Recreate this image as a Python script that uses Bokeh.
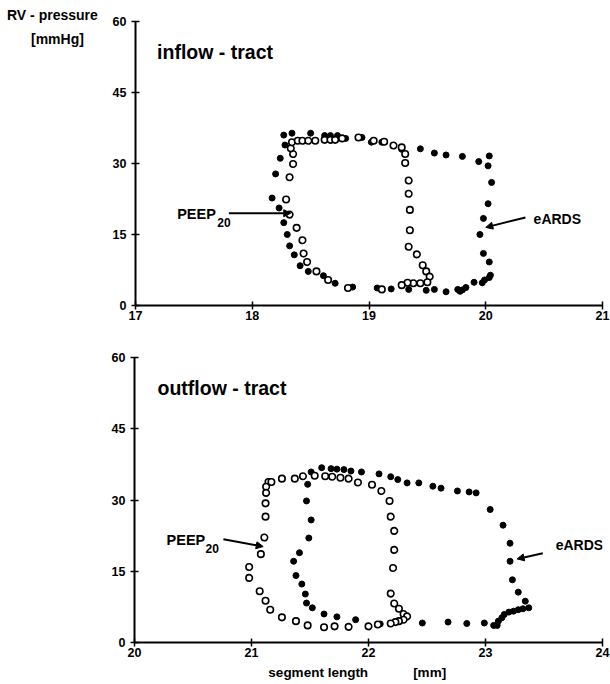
from bokeh.plotting import figure
from bokeh.models import Range1d, FixedTicker, Label, Arrow, NormalHead, Div
from bokeh.layouts import column, row
from bokeh.embed import file_html
from bokeh.resources import INLINE

FONT = "Liberation Sans"
NB = "\u00a0"

# ---------------- data: inflow tract ----------------
in_ards_x = [18.71, 18.61, 18.48, 18.41, 18.36, 18.32, 18.30, 18.27, 18.23, 18.17, 18.20, 18.24,
             18.28, 18.27, 18.34, 18.50, 18.62, 18.67, 18.73, 18.80, 18.94, 19.02, 19.11, 19.28,
             19.44, 19.56, 19.66, 19.80, 19.94, 20.03, 20.02, 20.05, 20.02, 19.98, 19.95, 19.98,
             20.03, 20.03, 20.04, 19.99, 19.97, 19.90, 19.83, 19.80, 19.78, 19.76, 19.66, 19.56,
             19.49, 19.34, 19.19, 19.07, 18.86]
in_ards_y = [4.7, 6.3, 7.2, 8.4, 10.7, 12.6, 15.0, 17.5, 20.6, 22.7, 27.8, 31.1,
             33.9, 36.0, 36.4, 36.4, 35.9, 35.9, 35.9, 35.3, 35.5, 34.5, 34.5, 33.0,
             33.1, 32.2, 31.8, 31.5, 30.4, 31.6, 29.5, 26.0, 21.5, 18.4, 15.0, 11.0,
             9.2, 5.9, 6.4, 5.4, 4.8, 4.9, 3.8, 3.3, 3.0, 3.4, 2.9, 3.4,
             3.2, 3.4, 3.5, 3.7, 3.9]
in_peep_x = [18.82, 18.65, 18.55, 18.47, 18.44, 18.43, 18.38, 18.32, 18.29, 18.32, 18.35, 18.35,
             18.33, 18.34, 18.39, 18.43, 18.48, 18.54, 18.62, 18.67, 18.71, 18.77, 18.91, 19.04,
             19.13, 19.21, 19.28, 19.31, 19.31, 19.34, 19.34, 19.35, 19.35, 19.34, 19.41, 19.46,
             19.49, 19.52, 19.50, 19.44, 19.38, 19.33, 19.28, 19.11]
in_peep_y = [3.7, 5.4, 7.2, 9.2, 11.0, 13.8, 16.4, 19.2, 22.4, 27.1, 29.9, 32.0,
             33.2, 34.5, 34.8, 34.8, 34.8, 34.8, 35.0, 35.0, 35.0, 35.3, 35.5, 34.8,
             34.6, 33.8, 33.4, 32.0, 30.1, 26.4, 23.6, 20.2, 15.9, 12.4, 10.8, 8.5,
             7.2, 6.1, 4.9, 4.7, 4.7, 4.8, 4.3, 3.4]

# ---------------- data: outflow tract ----------------
out_ards_x = [21.51, 21.60, 21.68, 21.73, 21.79, 21.85, 21.94, 22.09, 22.19, 22.25, 22.33, 22.43,
              22.55, 22.62, 22.76, 22.86, 22.92, 23.04, 23.15, 23.21, 23.21, 23.23, 23.28, 23.34,
              23.37, 23.32, 23.28, 23.24, 23.20, 23.16, 23.14, 23.11, 23.10, 23.07, 22.99, 22.84,
              22.68, 22.46, 22.10, 21.89, 21.73, 21.62, 21.52, 21.47, 21.46, 21.43, 21.38, 21.36,
              21.41, 21.49, 21.51, 21.47, 21.48]
out_ards_y = [35.9, 36.8, 36.6, 36.5, 36.4, 36.1, 35.9, 35.5, 34.9, 34.3, 33.6, 33.6,
              32.9, 32.5, 31.9, 31.7, 31.5, 28.0, 24.7, 20.9, 17.1, 13.2, 10.6, 8.7,
              7.3, 7.1, 6.9, 6.6, 6.4, 5.9, 5.2, 4.5, 3.6, 3.6, 4.1, 4.0,
              4.3, 4.1, 3.9, 4.8, 5.4, 6.0, 7.3, 8.3, 10.2, 12.3, 14.1, 17.1,
              18.9, 22.0, 25.8, 29.8, 33.3]
out_peep_x = [21.145, 21.125, 21.125, 21.17, 21.26, 21.37, 21.44, 21.54, 21.63, 21.69, 21.76, 21.83,
              21.91, 22.03, 22.11, 22.18, 22.19, 22.22, 22.22, 22.21, 22.19, 22.22, 22.26, 22.30,
              22.33, 22.30, 22.26, 22.23, 22.19, 22.08, 22.00, 21.83, 21.71, 21.62, 21.48, 21.38,
              21.26, 21.16, 21.12, 21.07, 20.98, 20.98, 21.08, 21.11, 21.12, 21.12]
out_peep_y = [33.8, 32.8, 31.5, 33.8, 34.5, 34.5, 35.0, 35.1, 35.0, 34.9, 34.7, 34.5,
              33.7, 33.2, 31.9, 29.8, 26.5, 23.5, 19.5, 15.7, 10.3, 8.2, 7.1, 6.0,
              5.5, 4.8, 4.5, 4.3, 4.0, 3.8, 3.4, 3.3, 3.4, 3.2, 3.6, 4.5,
              5.3, 6.9, 8.8, 10.8, 13.6, 15.9, 18.6, 22.1, 26.5, 29.3]

y_ticks = [0, 15, 30, 45, 60]
in_x_ticks = [17, 18, 19, 20, 21]
out_x_ticks = [20, 21, 22, 23, 24]

# annotation anchors (data units)
in_peep_arrow = (17.80, 19.5, 18.33, 19.5)
in_ards_arrow = (20.34, 18.6, 20.00, 16.5)
out_peep_arrow = (20.76, 21.75, 21.10, 20.2)
out_ards_arrow = (23.49, 18.8, 23.27, 17.6)


def make_fig(x_lo, x_hi, x_ticks, width, height, left, top, bottom):
    p = figure(width=width, height=height, output_backend="svg", toolbar_location=None,
               x_range=Range1d(x_lo, x_hi), y_range=Range1d(0, 60),
               min_border_left=left, min_border_right=8, min_border_top=top,
               min_border_bottom=bottom)
    p.outline_line_color = None
    p.xgrid.visible = False
    p.ygrid.visible = False
    p.background_fill_color = "white"
    p.border_fill_color = "white"
    p.xaxis.ticker = FixedTicker(ticks=x_ticks)
    p.yaxis.ticker = FixedTicker(ticks=y_ticks)
    for ax in (p.xaxis[0], p.yaxis[0]):
        ax.axis_line_width = 2
        ax.axis_line_color = "black"
        ax.major_tick_line_width = 1.5
        ax.major_tick_line_color = "black"
        ax.major_tick_in = 4
        ax.major_tick_out = 4
        ax.minor_tick_line_color = None
        ax.major_label_text_font = FONT
        ax.major_label_text_font_style = "bold"
        ax.major_label_text_font_size = "12.5px"
        ax.major_label_text_color = "black"
    p.xaxis[0].major_label_standoff = 1
    p.yaxis[0].major_label_standoff = 5
    return p


def add_label(p, x, y, text, size, align="left"):
    p.add_layout(Label(x=x, y=y, text=text, text_font=FONT, text_font_style="bold",
                       text_font_size=size, text_baseline="middle", text_align=align,
                       text_color="black"))


def add_arrow(p, a):
    p.add_layout(Arrow(x_start=a[0], y_start=a[1], x_end=a[2], y_end=a[3],
                       line_width=2, line_color="black",
                       end=NormalHead(size=7, fill_color="black", line_color="black")))


def add_points(p, fx, fy, ox, oy):
    p.scatter(fx, fy, marker="circle", size=6, fill_color="black", line_color="black")
    p.scatter(ox, oy, marker="circle", size=6.5, fill_color="white", line_color="black",
              line_width=1.6)


# y-axis title, placed beside the top panel
ytitle = Div(width=100, height=340, margin=0,
             text=('<div style="font-family:\'Liberation Sans\',Arial,sans-serif;font-weight:bold;'
                   'font-size:14px;color:black;line-height:17px;">'
                   '<div style="margin-left:7px;margin-top:7px;white-space:nowrap;">RV - pressure</div>'
                   '<div style="margin-left:31px;margin-top:7px;white-space:nowrap;">[mmHg]</div>'
                   '</div>'))

p1 = make_fig(17, 21, in_x_ticks, 510, 340, 35, 21, 35)
add_points(p1, in_ards_x, in_ards_y, in_peep_x, in_peep_y)
add_label(p1, 17.185, 53.5, "inflow - tract", "19.5px")
add_label(p1, 17.357, 19.4, "PEEP", "14.5px")
add_label(p1, 17.70, 17.6, "20", "12px")
add_label(p1, 20.41, 18.2, "eARDS", "14px")
add_arrow(p1, in_peep_arrow)
add_arrow(p1, in_ards_arrow)

p2 = make_fig(20, 24, out_x_ticks, 610, 342, 134, 17, 39)
add_points(p2, out_ards_x, out_ards_y, out_peep_x, out_peep_y)
add_label(p2, 20.197, 53.5, "outflow - tract", "19.5px")
add_label(p2, 20.274, 21.6, "PEEP", "14.5px")
add_label(p2, 20.607, 19.7, "20", "12px")
add_label(p2, 23.60, 20.6, "eARDS", "14px")
add_arrow(p2, out_peep_arrow)
add_arrow(p2, out_ards_arrow)
p2.xaxis.axis_label = "segment length" + NB * 12 + "[mm]" + NB * 6
p2.xaxis.axis_label_text_font = FONT
p2.xaxis.axis_label_text_font_style = "bold"
p2.xaxis.axis_label_text_font_size = "13.5px"
p2.xaxis.axis_label_text_color = "black"
p2.xaxis.axis_label_standoff = 5

layout = column(row(ytitle, p1, spacing=0), p2, spacing=0)
open("out.html", "w").write(file_html(layout, INLINE))
